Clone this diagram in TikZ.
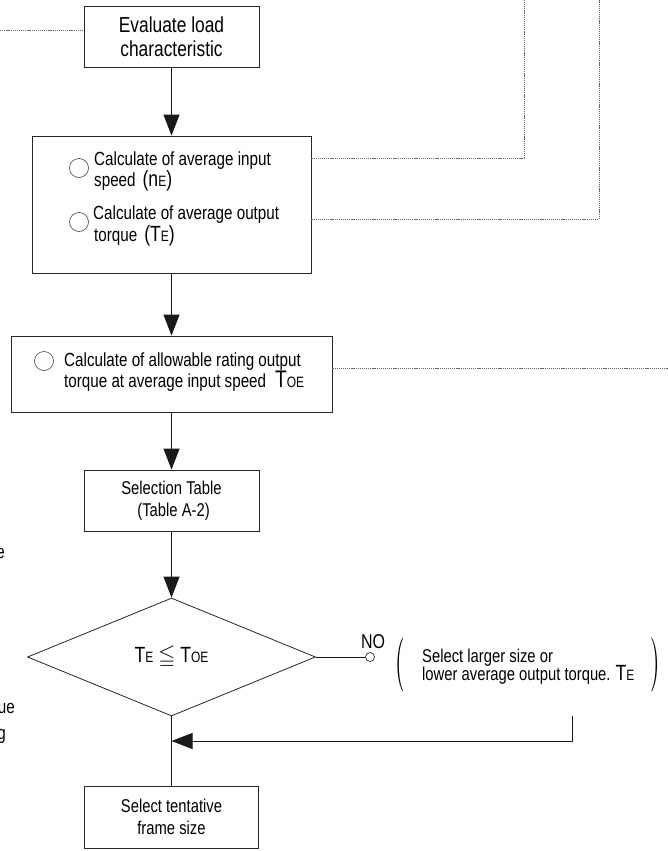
\documentclass[tikz,border=0pt]{standalone}
\usepackage{fontspec}
\usepackage{amssymb}
\setmainfont[FakeStretch=0.8]{Liberation Sans}
\newfontfamily\parenfont{lmroman10-regular.otf}
\usetikzlibrary{arrows.meta,shapes.geometric}

\newcommand{\bigtxt}[1]{{\fontsize{22}{22}\selectfont #1}}
\newcommand{\smtxt}[1]{{\fontsize{15}{15}\selectfont #1}}
\newcommand{\tallparen}[1]{\scalebox{0.45}[1]{\parenfont\fontsize{54}{54}\selectfont #1}}

\begin{document}
\begin{tikzpicture}[x=1pt,y=-1pt,
  box/.style={draw=black!85,line width=0.8pt,inner sep=0pt,align=center,
    font=\fontsize{18.5}{22}\selectfont},
  txt/.style={font=\fontsize{19}{19}\selectfont,inner sep=0pt,anchor=base west},
  bullet/.style={circle,draw=black!75,line width=0.6pt,minimum size=19pt,inner sep=0pt},
  flow/.style={line width=0.8pt,draw=black!90,-{Triangle[length=21pt,width=16pt]}},
  link/.style={line width=0.8pt,draw=black!90},
  dotline/.style={draw=black!60,line width=0.9pt,dash pattern=on 1.2pt off 0.9pt}]
\useasboundingbox (0,0) rectangle (668,851);

% main column
\node[box,minimum width=175,minimum height=61,font=\fontsize{21.7}{23.5}\selectfont]
  (eval) at (171.5,36.5) {Evaluate load\\characteristic};
\node[box,minimum width=279,minimum height=137] (calc) at (171.5,204.5) {};
\node[box,minimum width=321,minimum height=76] (allow) at (171.5,374) {};
\node[box,minimum width=175,minimum height=61] (sel) at (171.5,500.5)
  {Selection Table\\\ (Table A-2)};
\node[draw=black!85,line width=0.8pt,diamond,minimum width=288,minimum height=118,
  inner sep=0pt] (judge) at (171.5,657)
  {\bigtxt{T}\smtxt{E}\hspace{5pt}{\fontsize{22}{22}\selectfont$\leqq$}\hspace{5pt}\bigtxt{T}\smtxt{OE}};
\node[box,minimum width=174,minimum height=62] (frame) at (171.5,817)
  {Select tentative\\frame size};

% contents of the boxes
\node[bullet] (c1) at (79,168) {};
\node[txt] (s1) at (94,165) {Calculate of average input};
\node[txt] (s2) at (94,186) {speed\hspace{7pt}\bigtxt{(n}\smtxt{E}\bigtxt{)}};
\node[bullet] (c2) at (79,222) {};
\node[txt] (s3) at (93,219) {Calculate of average output};
\node[txt] (s4) at (94,241) {torque\hspace{7pt}\bigtxt{(T}\smtxt{E}\bigtxt{)}};
\node[bullet] (c3) at (44,361) {};
\node[txt] (a1) at (64,366) {Calculate of allowable rating output};
\node[txt] (a2) at (64,387) {torque at average input speed\hspace{9pt}{\fontsize{24}{24}\selectfont T}\smtxt{OE}};

% NO branch
\node[font=\fontsize{20}{20}\selectfont,inner sep=0pt,anchor=base] (no) at (373,648) {NO};
\node[circle,draw=black!85,line width=0.7pt,minimum size=9pt,inner sep=0pt] (nc) at (370,657) {};
\node[inner sep=0pt] (lp) at (400,665) {\tallparen{(}};
\node[txt,font=\fontsize{18.5}{19}\selectfont] (r1) at (422,662) {Select larger size or};
\node[txt,font=\fontsize{18.5}{19}\selectfont] (r2) at (422,680)
  {lower average output torque.\hspace{5pt}\bigtxt{T}\smtxt{E}};
\node[inner sep=0pt] (rp) at (655,665) {\tallparen{)}};

% cut-off text at the left edge
\node[txt,anchor=base east] (f1) at (5,558) {e};
\node[txt,anchor=base east] (f2) at (15,713) {ue};
\node[txt,anchor=base east] (f3) at (6,739) {g};

\coordinate (back) at (572,716);
\coordinate (join) at (171.5,741);
\coordinate (lft) at (0,30);
\coordinate (up1) at (524,0);
\coordinate (up2) at (599,0);
\coordinate (k1) at (524,158);
\coordinate (k2) at (599,219);
\coordinate (rgt) at (668,368);

\draw[flow] (eval) -- (calc);
\draw[flow] (calc) -- (allow);
\draw[flow] (allow) -- (sel);
\draw[flow] (sel) -- (judge);
\draw[link] (judge.east) -- (nc);
\draw[link] (judge.south) -- (frame.north);
\draw[flow] (back) |- (join);

\draw[dotline] (lft) -- (lft -| eval.west);
\draw[dotline] (calc.east |- k1) -- (k1) -- (up1);
\draw[dotline] (calc.east |- k2) -- (k2) -- (up2);
\draw[dotline] (allow.east |- rgt) -- (rgt);
\end{tikzpicture}
\end{document}
